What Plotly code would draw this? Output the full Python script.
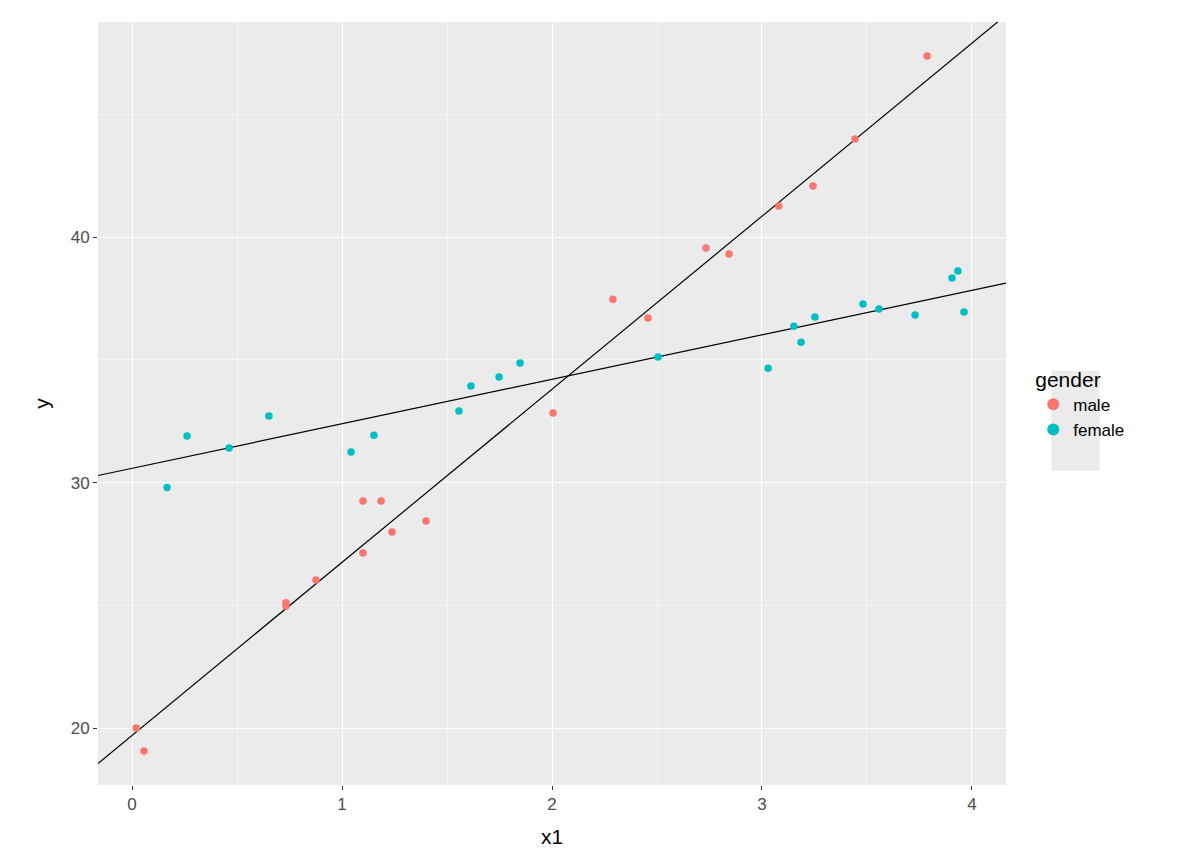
import numpy as np
import plotly.graph_objects as go

male_x = [0.02, 0.057, 0.733, 0.733, 0.876, 1.10, 1.10, 1.186, 1.238, 1.40, 2.005, 2.29, 2.457,
          2.733, 2.843, 3.08, 3.243, 3.443, 3.786]
male_y = [20.0, 19.06, 25.1, 24.97, 26.03, 29.25, 27.13, 29.25, 27.99, 28.43, 32.83, 37.47, 36.70,
          39.55, 39.31, 41.26, 42.08, 43.99, 47.37]
female_x = [0.167, 0.262, 0.462, 0.652, 1.043, 1.152, 1.557, 1.614, 1.748, 1.848, 2.505, 3.029,
            3.152, 3.186, 3.252, 3.481, 3.557, 3.729, 3.905, 3.933, 3.962]
female_y = [29.8, 31.9, 31.41, 32.71, 31.24, 31.93, 32.91, 33.93, 34.30, 34.87, 35.11, 34.66,
            36.37, 35.72, 36.74, 37.27, 37.07, 36.82, 38.33, 38.62, 36.95]
intercepts = [19.7, 30.58]
slopes = [7.05, 1.813]

xr = [-0.162, 4.162]
yr = [17.68, 48.76]

fig = go.Figure()
for a, b in zip(intercepts, slopes):
    lx = np.array(xr)
    fig.add_trace(go.Scatter(x=lx, y=a + b * lx, mode="lines", line=dict(color="black", width=1.2),
                             showlegend=False, hoverinfo="skip"))
fig.add_trace(go.Scatter(x=male_x, y=male_y, mode="markers", name="male",
                         marker=dict(color="#F8766D", size=7.5)))
fig.add_trace(go.Scatter(x=female_x, y=female_y, mode="markers", name="female",
                         marker=dict(color="#00BFC4", size=7.5)))

axis = dict(showline=False, zeroline=False, gridcolor="white", gridwidth=1.3, automargin=False,
            ticks="outside", tickcolor="#333333", ticklen=4,
            tickfont=dict(size=17, color="#4D4D4D"))
fig.update_layout(
    width=1200, height=864,
    plot_bgcolor="#EBEBEB", paper_bgcolor="white",
    font=dict(family="Liberation Sans, Arial", color="black"),
    margin=dict(l=90, r=202, t=14, b=87, autoexpand=False),
    xaxis=dict(axis, range=xr, tickvals=[0, 1, 2, 3, 4], title=dict(text="x1", font=dict(size=21)),
               minor=dict(showgrid=True, tick0=0.5, dtick=1, gridcolor="#F5F5F5", gridwidth=0.7)),
    yaxis=dict(axis, range=yr, tickvals=[20, 30, 40], title=dict(text="y", font=dict(size=21)),
               minor=dict(showgrid=True, tick0=25, dtick=10, gridcolor="#F5F5F5", gridwidth=0.7)),
    legend=dict(title=dict(text="gender", font=dict(size=21)), x=1.03, y=0.5, yanchor="middle",
                font=dict(size=17), bgcolor="rgba(0,0,0,0)", itemsizing="constant",
                tracegroupgap=8),
    shapes=[dict(type="rect", xref="paper", yref="paper", x0=1.05, x1=1.103, y0=0.412, y1=0.543,
                 fillcolor="#EBEBEB", line=dict(width=0), layer="below")],
)
fig.write_html("out.html")
